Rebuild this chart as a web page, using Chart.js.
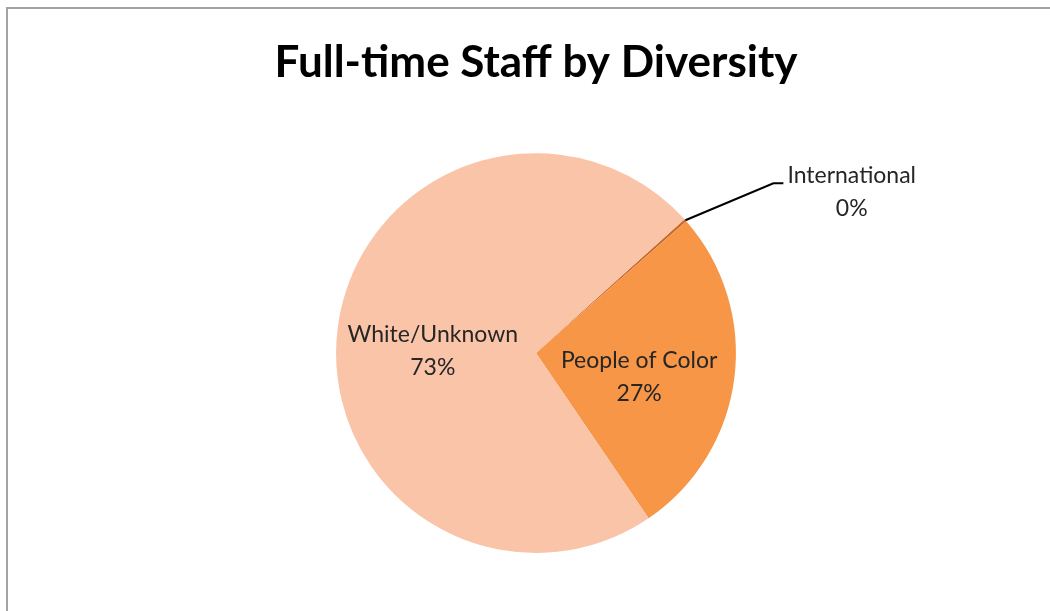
<!DOCTYPE html>
<html>
<head>
<meta charset="utf-8">
<style>
  html, body { margin:0; padding:0; background:#fff; }
  #wrap { position:relative; width:1050px; height:611px; overflow:hidden; }
</style>
<script src="https://cdn.jsdelivr.net/npm/chart.js@4/dist/chart.umd.min.js"></script>
</head>
<body>
<div id="wrap"><canvas id="chartPie" width="1050" height="611"></canvas></div>
<script>
/* ===== Data ===== */
const categories = ['International', 'People of Color', 'White/Unknown'];
const shares = [0.2, 27, 73];
const sliceColors = ['#C8682A', '#F79646', '#F9C4A8'];
const chartTitle = 'Full-time Staff by Diversity';

/* ===== Frame (grey border, cut at right/bottom) ===== */
const framePlugin = {
  id: 'frame',
  beforeDraw(chart){
    const c = chart.ctx;
    c.save();
    c.fillStyle = '#fff';
    c.fillRect(0, 0, chart.width, chart.height);
    c.strokeStyle = '#a3a3a3';
    c.lineWidth = 2;
    c.strokeRect(7, 8, chart.width + 20, chart.height + 20);
    c.restore();
  }
};

/* ===== Data labels (name + percent) ===== */
const sliceLabels = {
  id: 'sliceLabels',
  afterDatasetsDraw(chart){
    const c = chart.ctx;
    const meta = chart.getDatasetMeta(0);
    const data = chart.data.datasets[0].data;
    const total = data.reduce((a, b) => a + b, 0);
    c.save();
    c.font = '23px Lato, "Open Sans", sans-serif';
    c.fillStyle = '#262626';
    c.textBaseline = 'middle';
    meta.data.forEach((arc, i) => {
      const p = arc.getProps(['x','y','startAngle','endAngle','outerRadius'], true);
      const mid = (p.startAngle + p.endAngle) / 2;
      const pct = Math.round(data[i] / total * 100) + '%';
      const name = chart.data.labels[i];
      if (data[i] / total < 0.02) {
        // small slice: label outside with leader line
        const ex = p.x + Math.cos(mid) * p.outerRadius;
        const ey = p.y + Math.sin(mid) * p.outerRadius;
        const kx = ex + 88, ky = ey - 37;
        c.strokeStyle = '#000';
        c.lineWidth = 2;
        c.beginPath();
        c.moveTo(ex, ey); c.lineTo(kx, ky); c.lineTo(kx + 10, ky);
        c.stroke();
        const tx = kx + 14 + c.measureText(name).width / 2;
        c.textAlign = 'center';
        c.fillText(name, tx, ky - 8);
        c.fillText(pct, tx, ky + 25);
      } else {
        const r = p.outerRadius * 0.52;
        const cx = p.x + Math.cos(mid) * r;
        const cy = p.y + Math.sin(mid) * r + 10;
        c.textAlign = 'center';
        c.fillText(name, cx, cy - 16);
        c.fillText(pct, cx, cy + 17);
      }
    });
    c.restore();
  }
};

/* ===== Chart.js ===== */
new Chart(document.getElementById('chartPie'), {
  type: 'pie',
  data: {
    labels: categories,
    datasets: [{
      data: shares,
      backgroundColor: sliceColors,
      borderWidth: 0,
      hoverOffset: 0
    }]
  },
  options: {
    responsive: false,
    animation: false,
    rotation: 48,
    layout: { padding: { left: 22, right: 0, top: 0, bottom: 58 } },
    plugins: {
      legend: { display: false },
      tooltip: { enabled: false },
      title: {
        display: true,
        text: chartTitle,
        color: '#000',
        font: { family: 'Lato, "Open Sans", sans-serif', size: 44, weight: 'bold', lineHeight: 1.2 },
        padding: { top: 36, bottom: 64.4 }
      }
    }
  },
  plugins: [framePlugin, sliceLabels]
});
</script>
</body>
</html>
